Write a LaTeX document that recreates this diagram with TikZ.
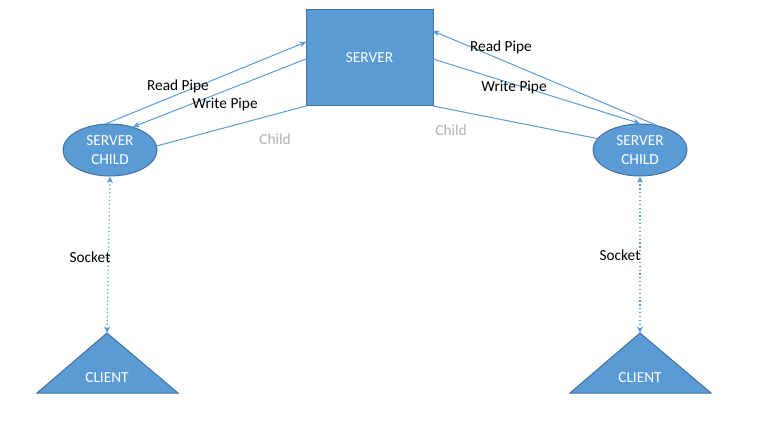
\documentclass[tikz,border=0pt]{standalone}
\usepackage{fontspec}
\setmainfont{Carlito}
\usetikzlibrary{shapes.geometric,arrows.meta}
\definecolor{ofill}{HTML}{5B9BD5}
\definecolor{oline}{HTML}{41719C}
\definecolor{childgray}{HTML}{B0B0B0}
\begin{document}
\begin{tikzpicture}[x=0.75pt,y=-0.75pt,
  every node/.style={font=\fontsize{11.5pt}{14.25pt}\selectfont},
  serverbox/.style={draw=oline,fill=ofill,line width=0.75pt,minimum width=127*0.75pt,minimum height=96*0.75pt,inner sep=0pt,text=white},
  childell/.style={ellipse,draw=oline,fill=ofill,line width=0.75pt,minimum width=94*0.75pt,minimum height=52*0.75pt,inner sep=0pt,text=white,align=center},
  tri/.style={draw=oline,fill=ofill,line width=0.75pt},
  conn/.style={draw=ofill,line width=0.75pt},
  arr/.style={conn,-{Stealth[length=5pt,width=4.5pt]}},
  sock/.style={draw=ofill,line width=0.9pt,dotted,{Stealth[length=5pt,width=4.5pt]}-{Stealth[length=5pt,width=4.5pt]}},
  lbl/.style={text=black,inner sep=0pt},
  clbl/.style={text=childgray,inner sep=0pt}]
\useasboundingbox (0,0) rectangle (762,442);
% nodes
\node[serverbox] (srv) at (369.5,58) {SERVER};
\node[childell] (lc) at (110,150) {SERVER\\CHILD};
\node[childell] (rc) at (640,150) {SERVER\\CHILD};
% triangles
\coordinate (lapex) at (107,333);
\coordinate (rapex) at (640,333);
\path[tri] (lapex) -- (178,393) -- (37,393) -- cycle;
\path[tri] (rapex) -- (711,393) -- (570,393) -- cycle;
\node[text=white] (lcl) at (107,378) {CLIENT};
\node[text=white] (rcl) at (640,378) {CLIENT};
% coordinates on nodes
\coordinate (sL1) at (306,42);
\coordinate (sL2) at (306,59);
\coordinate (sL3) at (306,106);
\coordinate (sR1) at (433,31);
\coordinate (sR2) at (433,59);
\coordinate (sR3) at (433,106);
% left connectors
\path[arr] (lc.98) -- (sL1);
\path[arr] (sL2) -- (lc.45);
\path[conn] (sL3) -- (lc.5);
% right connectors
\path[arr] (rc.57) -- (sR1);
\path[arr] (sR2) -- (rc.90);
\path[conn] (sR3) -- (rc.165);
% sockets
\path[sock] (lc.south) -- (lapex);
\path[sock] (rc.south) -- (rapex);
% labels
\node[lbl] (l1) at (178,86) {Read Pipe};
\node[lbl] (l2) at (225,104) {Write Pipe};
\node[clbl] (l3) at (275,139) {Child};
\node[lbl] (r1) at (501,47) {Read Pipe};
\node[lbl] (r2) at (514,87) {Write Pipe};
\node[clbl] (r3) at (451,130) {Child};
\node[lbl] (s1) at (90,257) {Socket};
\node[lbl] (s2) at (620,255) {Socket};
\end{tikzpicture}
\end{document}
